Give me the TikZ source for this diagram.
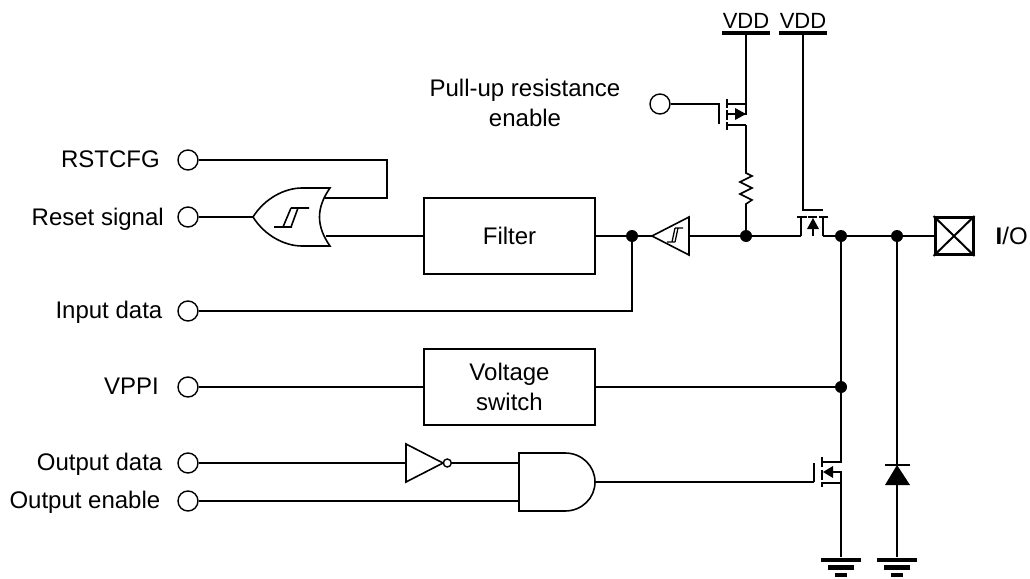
\documentclass[tikz,border=0pt]{standalone}
\usepackage{fontspec}
\setmainfont{Liberation Sans}
\tikzset{
 wire/.style={line width=1.6pt,line cap=butt},
 term/.style={circle,draw,fill=white,line width=1.4pt,minimum size=20pt,inner sep=0pt},
 blockbox/.style={draw,line width=1.6pt,inner sep=0pt,align=center},
 jn/.style={circle,fill=black,minimum size=12pt,inner sep=0pt},
 lab/.style={inner sep=0pt,font=\fontsize{24}{29.5}\selectfont,align=center},
 vddlab/.style={inner sep=0pt,font=\fontsize{22}{26}\selectfont},
 rail/.style={line width=4pt},
}
\begin{document}
\begin{tikzpicture}[x=1pt,y=-1pt]
\useasboundingbox (0,0) rectangle (1030,578);
% terminals
\node[term] (tR) at (188,160) {};
\node[term] (tS) at (188,217) {};
\node[term] (tI) at (188,311) {};
\node[term] (tV) at (188,387) {};
\node[term] (tD) at (188,463) {};
\node[term] (tE) at (188,501) {};
\node[term] (tP) at (660,104) {};
% labels
\node[lab,anchor=base east] (lR) at (160,167.5) {RSTCFG};
\node[lab,anchor=base east] (lS) at (164,225) {Reset signal};
\node[lab,anchor=base east] (lI) at (162.5,318.5) {Input data};
\node[lab,anchor=base east] (lV) at (159,394.5) {VPPI};
\node[lab,anchor=base east] (lD) at (162.5,470.5) {Output data};
\node[lab,anchor=base east] (lE) at (160.5,508) {Output enable};
\node[lab] (lP) at (525,103) {Pull-up resistance\\enable};
\node[vddlab,anchor=base] (lV1) at (746,28.5) {VDD};
\node[vddlab,anchor=base] (lV2) at (803,28.5) {VDD};
\node[lab,anchor=base west] (lIO) at (995.5,244) {\textbf{I}/O};
% boxes
\node[blockbox,lab,draw,line width=1.6pt,minimum width=171pt,minimum height=76pt] (filter) at (509.5,236) {Filter};
\node[blockbox,lab,draw,line width=1.6pt,minimum width=171pt,minimum height=76pt] (vsw) at (509.5,387) {Voltage\\switch};
\node[draw,line width=3pt,minimum width=38pt,minimum height=37pt,inner sep=0pt] (pad) at (954,236) {};
\draw[line width=2pt] (pad.north west) -- (pad.south east) (pad.north east) -- (pad.south west);
% junctions
\node[jn] (j1) at (632,236) {};
\node[jn] (j2) at (746,236) {};
\node[jn] (j3) at (841,236) {};
\node[jn] (j4) at (897,236) {};
\node[jn] (j5) at (841,387) {};
% rails
\coordinate (vdd1) at (746,33);
\coordinate (vdd2) at (803,33);
\draw[rail] (722,33) -- (770,33);
\draw[rail] (779,33) -- (827,33);
\coordinate (g1) at (841,557);
\coordinate (g2) at (897,557);
\foreach \g in {841,897}{
 \draw[line width=4.5pt] (\g-20,560) -- (\g+20,560);
 \draw[line width=4.5pt] (\g-13,567.5) -- (\g+13,567.5);
 \draw[line width=4.5pt] (\g-6,575) -- (\g+6,575);
}
% OR gate
\coordinate (orT) at (330,188);
\coordinate (orB) at (330,246);
\coordinate (orL) at (253,217);
\coordinate (orU) at (325,198);
\coordinate (orO) at (326,236);
\draw[wire,line join=miter,fill=white] (orL) .. controls (265,198) and (285,188) .. (302,188) -- (orT)
  .. controls (316,208) and (316,226) .. (orB) -- (302,246) .. controls (285,246) and (265,236) .. (orL) -- cycle;
\draw[wire] (274,227) -- (292,227) (283,227) -- (291,208) (291,227) -- (298,208) (291,208) -- (309,208);
% buffer
\coordinate (bT) at (652,236);
\coordinate (bR) at (689,236);
\draw[wire,line join=miter] (bT) -- (689,217) -- (689,255) -- cycle;
\draw[line width=1.3pt] (667,242) -- (675,242) (672,242) -- (675,228) (675,242) -- (678,228) (675,228) -- (683,228);
% inverter
\coordinate (iL) at (406,463);
\coordinate (iR) at (452,463);
\draw[wire,line join=miter] (iL) -- (406,444) -- (443,463) -- (406,482) -- cycle;
\draw[line width=1.4pt] (447.3,463) circle (4);
% AND gate
\coordinate (aIn1) at (519,463);
\coordinate (aIn2) at (519,501);
\coordinate (aOut) at (595,482);
\draw[wire,line join=miter] (519,453) -- (565,453) .. controls (582,453) and (595,466) .. (aOut) .. controls (595,498) and (582,511) .. (565,511) -- (519,511) -- cycle;
% PMOS pull-up
\coordinate (pGt) at (719,104);
\coordinate (pD) at (746,125);
\draw[wire] (tP) -- (pGt) -- (719,124);
\draw[wire] (727,99) -- (727,108) (727,110) -- (727,120) (727,122) -- (727,130);
\draw[wire] (727,104) -- (746,104) (727,125) -- (pD);
\draw[wire] (vdd1) -- (746,114) -- (738,114);
\fill (746,114) -- (735,108) -- (735,120) -- cycle;
\draw[wire] (727,114) -- (736,114);
% resistor
\draw[wire,line join=miter] (pD) -- (746,173) -- (752,176) -- (740,182) -- (752,188) -- (740,194) -- (752,200) -- (746,204) -- (j2);
% Pass transistor
\coordinate (tS1) at (801,236);
\coordinate (tD1) at (823,236);
\draw[wire] (vdd2) -- (803,210) -- (823,210);
\draw[wire] (797,217) -- (807,217) (808,217) -- (817,217) (819,217) -- (828,217);
\draw[wire] (801,217) -- (tS1) (823,217) -- (tD1);
\draw[wire] (813,236) -- (813,228);
\fill (813,218) -- (807,229) -- (819,229) -- cycle;
% NMOS
\coordinate (nGt) at (814,482);
\draw[wire] (nGt) -- (814,463);
\draw[wire] (822,457) -- (822,467) (822,470) -- (822,480) (822,482) -- (822,487);
\draw[wire] (j5) -- (841,462) -- (822,462);
\draw[wire] (831,472) -- (841,472) -- (841,557);
\draw[wire] (822,483) -- (841,483);
\fill (823,472) -- (833,466) -- (833,478) -- cycle;
% diode
\fill (897,465) -- (885,485) -- (910,485) -- cycle;
\draw[wire] (885,465) -- (910,465);
% connectors
\draw[wire] (tR) -- (387,160) -- (387,198) -- (orU);
\draw[wire] (tS) -- (orL);
\draw[wire] (orO) -- (filter.west);
\draw[wire] (filter.east) -- (j1) -- (bT);
\draw[wire] (bR) -- (j2) -- (tS1);
\draw[wire] (tD1) -- (j3) -- (j4) -- (pad.west);
\draw[wire] (tI) -- (632,311) -- (j1);
\draw[wire] (tV) -- (vsw.west);
\draw[wire] (vsw.east) -- (j5);
\draw[wire] (j3) -- (j5);
\draw[wire] (tD) -- (iL);
\draw[wire] (iR) -- (aIn1);
\draw[wire] (tE) -- (aIn2);
\draw[wire] (aOut) -- (nGt);
\draw[wire] (j4) -- (897,465) (897,485) -- (g2);
\end{tikzpicture}
\end{document}
